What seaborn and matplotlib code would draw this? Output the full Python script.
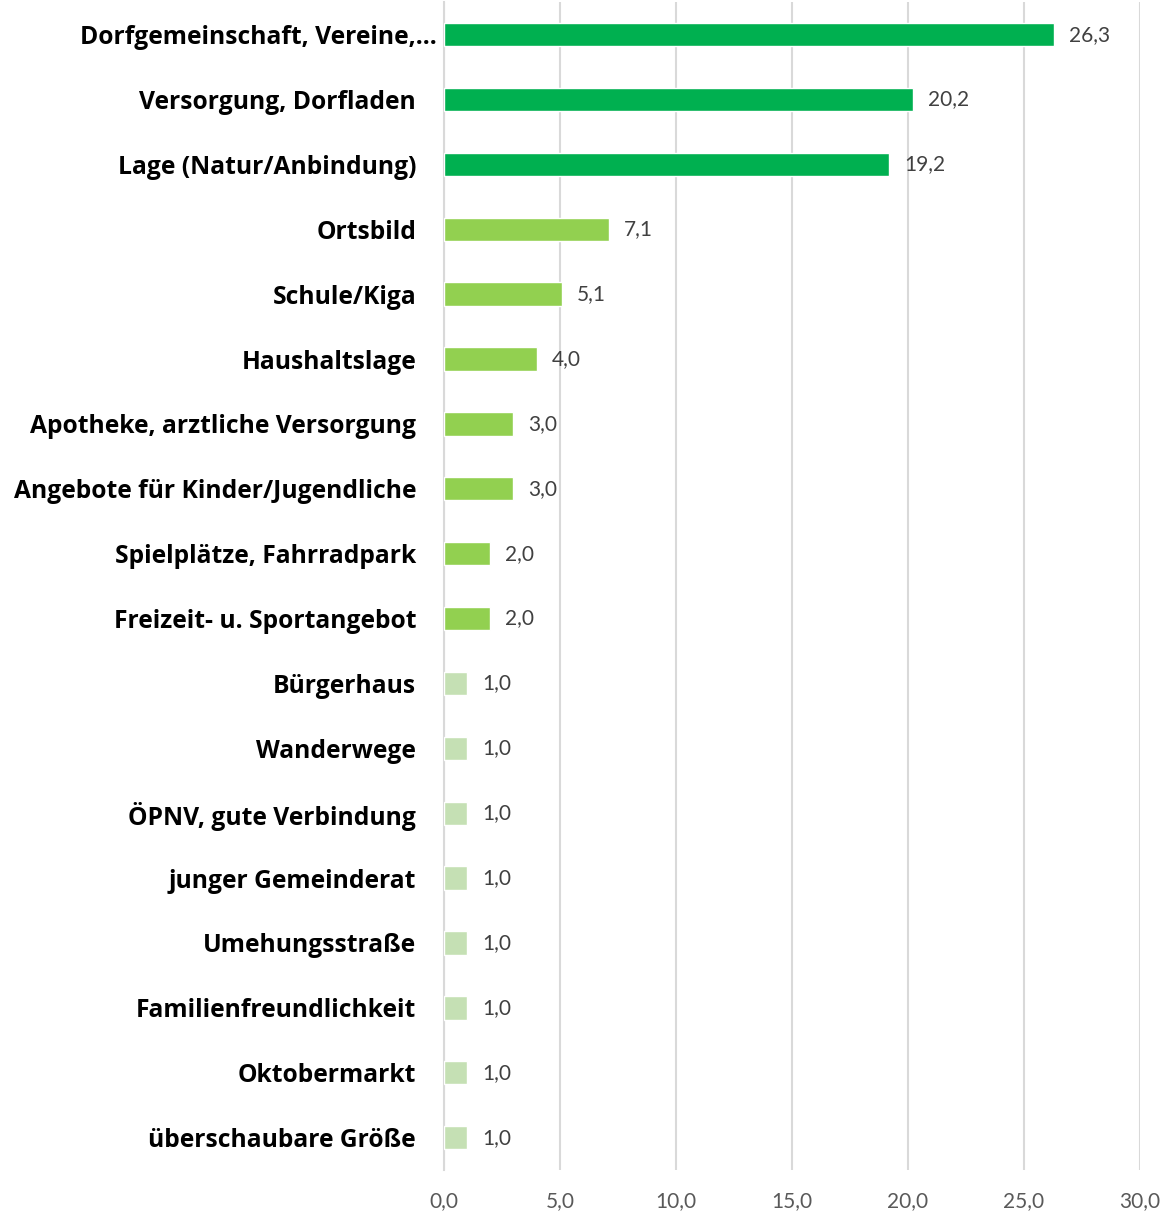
import pandas as pd
import matplotlib.pyplot as plt
import matplotlib.transforms as mtransforms
import seaborn as sns

# Data (percent)
categories = [
    "Dorfgemeinschaft, Vereine,…", "Versorgung, Dorfladen", "Lage (Natur/Anbindung)",
    "Ortsbild", "Schule/Kiga", "Haushaltslage", "Apotheke, arztliche Versorgung",
    "Angebote für Kinder/Jugendliche", "Spielplätze, Fahrradpark", "Freizeit- u. Sportangebot",
    "Bürgerhaus", "Wanderwege", "ÖPNV, gute Verbindung", "junger Gemeinderat",
    "Umehungsstraße", "Familienfreundlichkeit", "Oktobermarkt", "überschaubare Größe",
]
values = [26.3, 20.2, 19.2, 7.1, 5.1, 4.0, 3.0, 3.0, 2.0, 2.0,
          1.0, 1.0, 1.0, 1.0, 1.0, 1.0, 1.0, 1.0]
groups = ["high"] * 3 + ["mid"] * 7 + ["low"] * 8
group_colors = {"high": "#00B050", "mid": "#92D050", "low": "#C5E0B4"}
x_ticks = [0, 5, 10, 15, 20, 25, 30]

df = pd.DataFrame({"Kategorie": categories, "Wert": values, "Gruppe": groups})

sns.set_style("white")
plt.rcParams["font.family"] = ["Lato", "DejaVu Sans"]

fig = plt.figure(figsize=(11.65, 12.14), dpi=100)
ax = fig.add_axes([0.381, 0.0362, 0.5975, 0.962])

sns.barplot(data=df, x="Wert", y="Kategorie", hue="Gruppe", palette=group_colors,
            dodge=False, width=0.36, saturation=1, legend=False, ax=ax, zorder=3)

ax.set_xlim(0, 30)
ax.set_xticks(x_ticks)
ax.set_xticklabels([f"{t:.1f}".replace(".", ",") for t in x_ticks],
                   fontsize=15, color="#595959")
ax.tick_params(axis="x", length=0, pad=15)
ax.tick_params(axis="y", length=0, pad=20)
for lab in ax.get_yticklabels():
    lab.set_fontsize(17.7)
    lab.set_fontweight("bold")
    lab.set_fontfamily(["Open Sans", "DejaVu Sans"])
    lab.set_color("black")

# the truncated first label sits a bit further right, as in the original
first = ax.get_yticklabels()[0]
first.set_transform(first.get_transform()
                    + mtransforms.ScaledTranslation(21 / 100, 0, fig.dpi_scale_trans))

ax.grid(axis="x", color="#D9D9D9", linewidth=1.5, zorder=0)
ax.set_axisbelow(True)
for s in ["top", "right", "bottom"]:
    ax.spines[s].set_visible(False)
ax.spines["left"].set_color("#D9D9D9")
ax.spines["left"].set_linewidth(1.5)

for i, v in enumerate(values):
    ax.text(v + 0.65, i, f"{v:.1f}".replace(".", ","), va="center", ha="left",
            fontsize=15, color="#404040")

ax.set_xlabel("")
ax.set_ylabel("")

fig.savefig("out.png", dpi=100)
